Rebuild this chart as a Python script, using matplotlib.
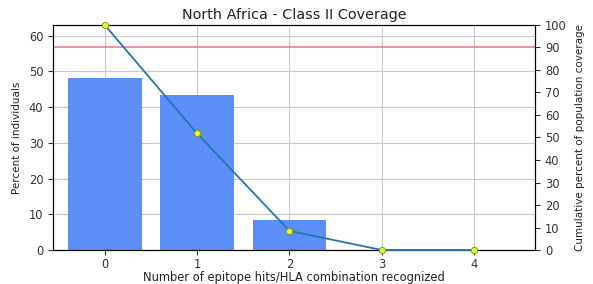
import matplotlib
matplotlib.use("Agg")
import matplotlib.pyplot as plt
import numpy as np

hits = [0, 1, 2, 3, 4]
tick_labels = ["0", "1", "2", "3", "4"]
percent_individuals = [48.2, 43.3, 8.5, 0.0, 0.0]
cumulative_coverage = [100.0, 51.8, 8.5, 0.0, 0.0]
threshold = 90

fig = plt.figure(figsize=(5.93, 2.84), dpi=100)
ax = fig.add_axes([0.0894, 0.1197, 0.813, 0.7923])
ax.bar(hits, percent_individuals, width=0.8, color="#5b8ef7", zorder=2)
ax.set_xlim(-0.56, 4.66)
ax.set_ylim(0, 63)
ax.set_yticks(np.arange(0, 61, 10))
ax.set_xticks(hits)
ax.set_xticklabels(tick_labels)
ax.grid(True, color="#c8c8c8", linewidth=0.8, zorder=0)
ax.set_axisbelow(True)
ax.tick_params(labelsize=8.3, colors="#333333")
ax.tick_params(axis="x", pad=2)
ax.set_xlabel("Number of epitope hits/HLA combination recognized", fontsize=8.3, color="#222222", labelpad=0)
ax.set_ylabel("Percent of individuals", fontsize=7.5, color="#222222", labelpad=5)
ax.set_title("North Africa - Class II Coverage", fontsize=10.4, color="#222222", pad=4)

ax2 = ax.twinx()
ax2.set_ylim(0, 100)
ax2.set_yticks(np.arange(0, 101, 10))
ax2.plot(hits, cumulative_coverage, color="#2476b0", linewidth=1.3,
         marker="o", markersize=4.5, markerfacecolor="#ddff33",
         markeredgecolor="#8a9a20", markeredgewidth=0.7, clip_on=False, zorder=3)
ax2.axhline(threshold, color="#e08585", linewidth=1.2, zorder=2)
ax2.tick_params(labelsize=8.3, colors="#333333")
ax2.set_ylabel("Cumulative percent of population coverage", fontsize=7.5, color="#222222", labelpad=6)

fig.savefig("out.png", dpi=100)
